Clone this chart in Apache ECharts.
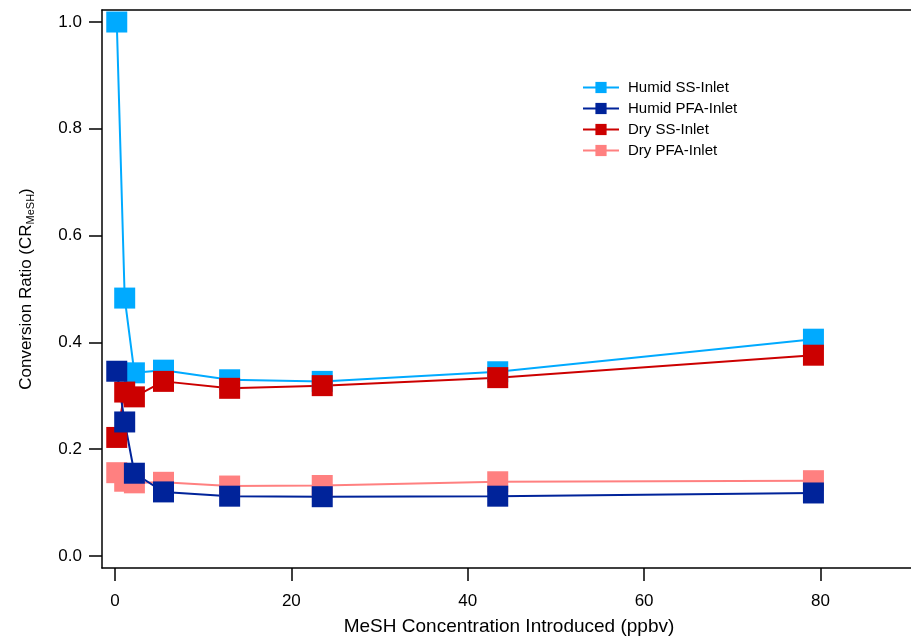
<!DOCTYPE html>
<html>
<head>
<meta charset="utf-8">
<title>Conversion Ratio vs MeSH Concentration</title>
<script src="https://cdn.jsdelivr.net/npm/echarts@6/dist/echarts.min.js"></script>
<style>
  html, body { margin: 0; padding: 0; background: #fff; }
  #chart { width: 911px; height: 638px; }
</style>
</head>
<body>
<div id="chart"></div>
<script>
// MeSH concentration introduced (ppbv), shared by all four series
const concentration = [0.2, 1.1, 2.2, 5.5, 13.0, 23.5, 43.4, 79.2];

// conversion ratio values
const humidSS  = [1.0, 0.483, 0.343, 0.348, 0.33, 0.327, 0.345, 0.406];
const humidPFA = [0.346, 0.251, 0.155, 0.12, 0.112, 0.111, 0.112, 0.118];
const drySS    = [0.222, 0.307, 0.298, 0.327, 0.314, 0.319, 0.334, 0.376];
const dryPFA   = [0.156, 0.14, 0.137, 0.138, 0.131, 0.132, 0.139, 0.141];

const xTicks = [0, 20, 40, 60, 80];
const yTicks = [0, 0.2, 0.4, 0.6, 0.8, 1.0];

const FONT = 'Liberation Sans, Arial, sans-serif';
const X_MIN = -1.474, X_MAX = 90.83;

function pairs(ys) {
  return concentration.map((x, i) => [x, ys[i]]);
}

function makeSeries(name, ys, color) {
  return {
    name: name,
    type: 'line',
    data: pairs(ys),
    symbol: 'rect',
    symbolSize: 21,
    color: color,
    lineStyle: { width: 2, color: color },
    itemStyle: { color: color },
    emphasis: { disabled: true },
    animation: false
  };
}

const chart = echarts.init(document.getElementById('chart'));

chart.setOption({
  backgroundColor: '#fff',
  textStyle: { fontFamily: FONT },
  grid: {
    left: 102, top: 10, width: 814, height: 558,
    outerBoundsMode: 'none',
    show: false
  },
  legend: {
    data: ['Humid SS-Inlet', 'Humid PFA-Inlet', 'Dry SS-Inlet', 'Dry PFA-Inlet'],
    orient: 'vertical',
    left: 577, top: 75,
    itemWidth: 36, itemHeight: 14, itemGap: 6,
    textStyle: { fontFamily: FONT, fontSize: 15, color: '#000', padding: [0, 0, 0, 4] }
  },
  xAxis: [{
    type: 'value',
    min: X_MIN, max: X_MAX,
    name: 'MeSH Concentration Introduced (ppbv)',
    nameLocation: 'middle',
    nameGap: 49,
    nameTextStyle: { fontFamily: FONT, fontSize: 19, color: '#000' },
    axisLine: { show: true, onZero: false, lineStyle: { color: '#000', width: 1.5 } },
    axisTick: { show: true, length: 13, customValues: xTicks, lineStyle: { color: '#000', width: 1.5 } },
    axisLabel: { customValues: xTicks, margin: 25, fontFamily: FONT, fontSize: 17, color: '#000' },
    splitLine: { show: false }
  }, {
    // top frame line only
    type: 'value',
    position: 'top',
    min: X_MIN, max: X_MAX,
    axisLine: { show: true, onZero: false, lineStyle: { color: '#000', width: 1.5 } },
    axisTick: { show: false },
    axisLabel: { show: false },
    splitLine: { show: false }
  }],
  yAxis: {
    type: 'value',
    min: -0.0225, max: 1.0225,
    name: '{a|Conversion Ratio (CR}{b|MeSH}{a|)}',
    nameLocation: 'middle',
    nameGap: 66,
    nameTextStyle: {
      rich: {
        a: { fontFamily: FONT, fontSize: 17, color: '#000' },
        b: { fontFamily: FONT, fontSize: 11, color: '#000', verticalAlign: 'bottom', padding: [8, 0, 0, 0] }
      }
    },
    axisLine: { show: true, onZero: false, lineStyle: { color: '#000', width: 1.5 } },
    axisTick: { show: true, length: 13, customValues: yTicks, lineStyle: { color: '#000', width: 1.5 } },
    axisLabel: {
      customValues: yTicks, margin: 20, fontFamily: FONT, fontSize: 17, color: '#000',
      formatter: v => v.toFixed(1)
    },
    splitLine: { show: false }
  },
  series: [
    makeSeries('Humid SS-Inlet', humidSS, '#00AAFF'),
    makeSeries('Dry PFA-Inlet', dryPFA, '#FF8080'),
    makeSeries('Dry SS-Inlet', drySS, '#CC0000'),
    makeSeries('Humid PFA-Inlet', humidPFA, '#00239A')
  ]
});
</script>
</body>
</html>
